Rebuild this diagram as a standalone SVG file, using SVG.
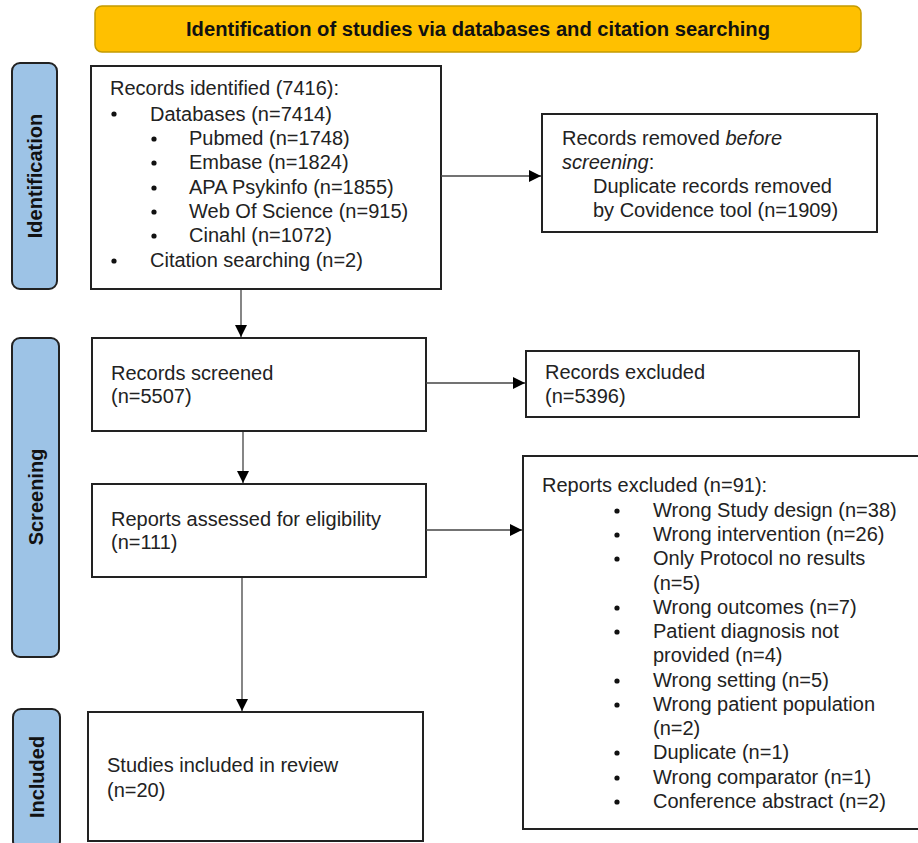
<svg xmlns="http://www.w3.org/2000/svg" width="918" height="843" viewBox="0 0 918 843">
<defs>
<marker id="ah" viewBox="0 0 10 10" refX="10" refY="5" markerWidth="12" markerHeight="12" markerUnits="userSpaceOnUse" orient="auto">
<path d="M0,0 L10,5 L0,10 z" fill="#000"/>
</marker>
<style>
.box{fill:#fff;stroke:#222;stroke-width:2}
.side{fill:#9DC3E6;stroke:#222;stroke-width:2}
.ban{fill:#FFC000;stroke:#C49A00;stroke-width:1.5}
.t{font-family:"Liberation Sans",Arial,sans-serif;font-size:20px;fill:#222}
.b{font-family:"Liberation Sans",Arial,sans-serif;font-size:20px;font-weight:bold;fill:#111}
.con{stroke:#444;stroke-width:1.3;fill:none;marker-end:url(#ah)}
.dot{fill:#111}
</style>
</defs>
<rect width="918" height="843" fill="#fff"/>

<g id="banner">
<rect class="ban" x="95" y="6" width="766" height="46" rx="7"/>
<text class="b" x="478" y="36" text-anchor="middle" font-size="19" textLength="584" lengthAdjust="spacingAndGlyphs">Identification of studies via databases and citation searching</text>
</g>

<g id="side-identification">
<rect class="side" x="12" y="63" width="45" height="226" rx="8"/>
<text class="b" transform="translate(42,176) rotate(-90)" text-anchor="middle">Identification</text>
</g>
<g id="side-screening">
<rect class="side" x="12" y="338" width="47" height="319" rx="8"/>
<text class="b" transform="translate(43,497) rotate(-90)" text-anchor="middle">Screening</text>
</g>
<g id="side-included">
<rect class="side" x="13" y="709" width="47" height="140" rx="8"/>
<text class="b" transform="translate(44,777) rotate(-90)" text-anchor="middle">Included</text>
</g>

<g id="records-identified">
<rect class="box" x="91" y="66" width="350" height="223"/>
<text class="t" x="110" y="95" font-size="18.5">Records identified (7416):</text>
<circle class="dot" cx="114" cy="114" r="2.6"/>
<text class="t" x="150" y="121">Databases (n=7414)</text>
<circle class="dot" cx="154" cy="139" r="2.6"/>
<text class="t" x="189" y="145">Pubmed (n=1748)</text>
<circle class="dot" cx="154" cy="163" r="2.6"/>
<text class="t" x="189" y="169">Embase (n=1824)</text>
<circle class="dot" cx="154" cy="188" r="2.6"/>
<text class="t" x="189" y="194">APA Psykinfo (n=1855)</text>
<circle class="dot" cx="154" cy="212" r="2.6"/>
<text class="t" x="189" y="218">Web Of Science (n=915)</text>
<circle class="dot" cx="154" cy="236" r="2.6"/>
<text class="t" x="189" y="242">Cinahl (n=1072)</text>
<circle class="dot" cx="114" cy="261" r="2.6"/>
<text class="t" x="150" y="267">Citation searching (n=2)</text>
</g>

<g id="records-removed">
<rect class="box" x="542" y="114" width="335" height="118"/>
<text class="t" x="562" y="145">Records removed <tspan font-style="italic">before</tspan></text>
<text class="t" x="562" y="169"><tspan font-style="italic">screening</tspan>:</text>
<text class="t" x="593" y="193">Duplicate records removed</text>
<text class="t" x="593" y="217">by Covidence tool (n=1909)</text>
</g>

<g id="records-screened">
<rect class="box" x="92" y="338" width="334" height="93"/>
<text class="t" x="111" y="380">Records screened</text>
<text class="t" x="111" y="403">(n=5507)</text>
</g>

<g id="records-excluded">
<rect class="box" x="526" y="351" width="333" height="66"/>
<text class="t" x="545" y="379">Records excluded</text>
<text class="t" x="545" y="403">(n=5396)</text>
</g>

<g id="reports-assessed">
<rect class="box" x="92" y="484" width="334" height="93"/>
<text class="t" x="111" y="526">Reports assessed for eligibility</text>
<text class="t" x="111" y="549">(n=111)</text>
</g>

<g id="reports-excluded">
<rect class="box" x="523" y="456" width="420" height="373"/>
<text class="t" x="542" y="492">Reports excluded (n=91):</text>
<circle class="dot" cx="617" cy="511" r="2.6"/>
<text class="t" x="653" y="517">Wrong Study design (n=38)</text>
<circle class="dot" cx="617" cy="535" r="2.6"/>
<text class="t" x="653" y="541">Wrong intervention (n=26)</text>
<circle class="dot" cx="617" cy="559" r="2.6"/>
<text class="t" x="653" y="565">Only Protocol no results</text>
<text class="t" x="653" y="590">(n=5)</text>
<circle class="dot" cx="617" cy="608" r="2.6"/>
<text class="t" x="653" y="614">Wrong outcomes (n=7)</text>
<circle class="dot" cx="617" cy="632" r="2.6"/>
<text class="t" x="653" y="638">Patient diagnosis not</text>
<text class="t" x="653" y="662">provided (n=4)</text>
<circle class="dot" cx="617" cy="681" r="2.6"/>
<text class="t" x="653" y="687">Wrong setting (n=5)</text>
<circle class="dot" cx="617" cy="705" r="2.6"/>
<text class="t" x="653" y="711">Wrong patient population</text>
<text class="t" x="653" y="735">(n=2)</text>
<circle class="dot" cx="617" cy="753" r="2.6"/>
<text class="t" x="653" y="759">Duplicate (n=1)</text>
<circle class="dot" cx="617" cy="778" r="2.6"/>
<text class="t" x="653" y="784">Wrong comparator (n=1)</text>
<circle class="dot" cx="617" cy="802" r="2.6"/>
<text class="t" x="653" y="808">Conference abstract (n=2)</text>
</g>

<g id="studies-included">
<rect class="box" x="88" y="712" width="335" height="129"/>
<text class="t" x="107" y="772">Studies included in review</text>
<text class="t" x="107" y="797">(n=20)</text>
</g>

<g id="connectors">
<line class="con" x1="441" y1="176" x2="541" y2="176"/>
<line class="con" x1="241" y1="290" x2="241" y2="337"/>
<line class="con" x1="426" y1="383" x2="525" y2="383"/>
<line class="con" x1="243" y1="432" x2="243" y2="483"/>
<line class="con" x1="426" y1="530" x2="522" y2="530"/>
<line class="con" x1="242" y1="578" x2="242" y2="711"/>
</g>
</svg>
